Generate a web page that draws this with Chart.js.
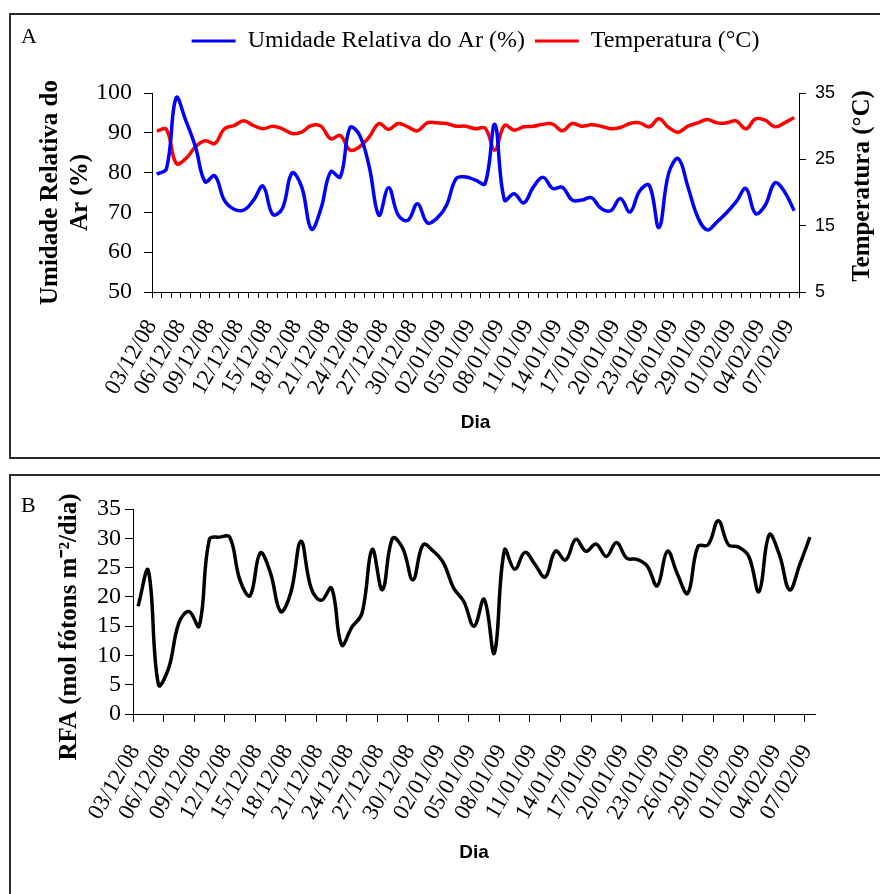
<!DOCTYPE html>
<html><head><meta charset="utf-8">
<script src="https://cdn.jsdelivr.net/npm/chart.js@4.4.0/dist/chart.umd.min.js"></script>
<style>
html,body{margin:0;padding:0;background:#fff;width:880px;height:894px;overflow:hidden;}
.box{position:absolute;border:2px solid #2a2a2a;box-sizing:border-box;}
canvas{position:absolute;left:0;}
</style></head><body>
<div class="box" style="left:9px;top:13px;width:880px;height:446px;"></div>
<div class="box" style="left:9px;top:474px;width:880px;height:440px;"></div>
<canvas id="cA" width="880" height="466" style="top:0px"></canvas>
<canvas id="cB" width="880" height="428" style="top:466px"></canvas>
<script>
const days = [
 '03/12/08','04/12/08','05/12/08','06/12/08','07/12/08','08/12/08','09/12/08','10/12/08','11/12/08','12/12/08',
 '13/12/08','14/12/08','15/12/08','16/12/08','17/12/08','18/12/08','19/12/08','20/12/08','21/12/08','22/12/08',
 '23/12/08','24/12/08','25/12/08','26/12/08','27/12/08','28/12/08','29/12/08','30/12/08','31/12/08','01/01/09',
 '02/01/09','03/01/09','04/01/09','05/01/09','06/01/09','07/01/09','08/01/09','09/01/09','10/01/09','11/01/09',
 '12/01/09','13/01/09','14/01/09','15/01/09','16/01/09','17/01/09','18/01/09','19/01/09','20/01/09','21/01/09',
 '22/01/09','23/01/09','24/01/09','25/01/09','26/01/09','27/01/09','28/01/09','29/01/09','30/01/09','31/01/09',
 '01/02/09','02/02/09','03/02/09','04/02/09','05/02/09','06/02/09','07/02/09'
];
const umidade = [
 79.6,81.0,98.8,93.1,86.5,77.7,79.2,73.0,70.8,70.6,
 73.0,76.6,69.5,71.0,79.9,76.4,65.8,71.0,80.2,78.9,
 91.3,89.4,81.4,69.3,76.2,69.3,68.0,72.2,67.4,68.5,
 71.8,78.5,78.9,78.1,77.3,92.1,73.1,74.7,72.4,76.4,
 78.8,76.0,76.3,73.1,73.1,73.7,71.0,70.4,73.5,70.1,
 75.4,76.8,66.2,79.8,83.5,76.4,68.9,65.6,67.6,69.9,
 72.7,76.0,69.7,71.8,77.4,75.2,70.4
];
const temperatura = [
 29.3,29.5,24.4,25.1,26.9,27.8,27.4,29.6,30.1,30.8,
 30.1,29.6,30.0,29.6,28.9,29.1,30.1,30.0,28.1,28.6,
 26.4,26.9,28.4,30.4,29.5,30.4,29.9,29.3,30.5,30.5,
 30.4,30.0,30.0,29.6,29.7,26.4,30.1,29.4,29.9,30.0,
 30.3,30.3,29.3,30.4,30.0,30.2,30.0,29.6,29.8,30.4,
 30.5,29.9,31.1,29.8,29.1,30.0,30.5,31.0,30.5,30.5,
 30.8,29.6,31.1,30.9,29.9,30.5,31.3
];
const rfa = [
 18.4,24.5,5.0,7.8,15.5,17.5,15.0,29.8,30.2,30.2,
 22.9,20.2,27.5,24.1,17.5,20.7,29.5,21.5,19.4,21.5,
 11.8,14.8,17.2,28.1,21.2,30.0,28.3,22.9,28.9,27.8,
 25.8,21.5,19.2,15.0,19.6,10.4,28.0,24.7,27.6,25.5,
 23.4,27.8,26.3,29.8,27.8,29.0,26.9,29.3,26.6,26.4,
 25.3,21.9,27.8,23.8,20.6,28.6,28.9,33.0,28.9,28.5,
 26.9,20.9,30.6,27.2,21.2,25.5,30.2
];
const seriesNames = ['Umidade Relativa do Ar (%)', 'Temperatura (°C)', 'RFA'];
const humidityRange = [50, 100, 10];
const tempRange = [5, 35, 10];
const rfaRange = [0, 35, 5];

const SERIF = "'Liberation Serif', 'Times New Roman', serif";
const SANS = "'Liberation Sans', Arial, sans-serif";
Chart.defaults.color = '#000';
Chart.defaults.font.family = SERIF;

const textPlugin = (items) => ({
  id: 'extraText',
  afterDraw(chart) {
    const ctx = chart.ctx;
    items.forEach(it => {
      ctx.save();
      ctx.font = it.font;
      ctx.fillStyle = '#000';
      ctx.translate(it.x, it.y);
      ctx.rotate(it.rot || 0);
      ctx.textAlign = it.align || 'left';
      ctx.textBaseline = it.baseline || 'alphabetic';
      ctx.fillText(it.text, 0, 0);
      ctx.restore();
    });
  }
});

const every3 = function(v, i) { return i % 3 === 0 ? this.getLabelForValue(v) : ''; };

new Chart(document.getElementById('cA'), {
  type: 'line',
  data: {
    labels: days,
    datasets: [
      {label: seriesNames[0], data: umidade, borderColor: '#0000ff', backgroundColor: '#0000ff',
       borderWidth: 3.5, pointRadius: 0, tension: 0.4, yAxisID: 'y', fill: false},
      {label: seriesNames[1], data: temperatura, borderColor: '#ff0000', backgroundColor: '#ff0000',
       borderWidth: 3.5, pointRadius: 0, tension: 0.4, yAxisID: 'y1', fill: false}
    ]
  },
  options: {
    responsive: false, animation: false,
    layout: {padding: {top: 19, left: 0, right: 0, bottom: 0}},
    plugins: {
      tooltip: {enabled: false},
      legend: {
        display: true, position: 'top', fullSize: false,
        labels: {
          font: {family: SERIF, size: 24}, color: '#000', boxWidth: 44, boxHeight: 3, padding: 10,
          generateLabels: (chart) => Chart.defaults.plugins.legend.labels.generateLabels(chart)
            .map(l => Object.assign(l, {fillStyle: l.strokeStyle, lineWidth: 0}))
        }
      }
    },
    scales: {
      x: {
        type: 'category', position: 'bottom', offset: true,
        grid: {offset: true, drawOnChartArea: false, drawTicks: true, tickLength: 6, color: '#000', tickColor: '#000'},
        border: {display: true, color: '#000', width: 1},
        ticks: {autoSkip: false, minRotation: 60, maxRotation: 60, padding: 17, labelOffset: -5,
                font: {family: SERIF, size: 23}, color: '#000', callback: every3},
        title: {display: true, text: 'Dia', color: '#000', font: {family: SANS, size: 19, weight: 'bold'},
                padding: {top: 0, bottom: 32}},
        afterFit: s => { s.height = 174; }
      },
      xSpacer: {
        type: 'category', position: 'top', display: true,
        grid: {display: false}, border: {display: false}, ticks: {display: false},
        afterFit: s => { s.height = 30; }
      },
      y: {
        position: 'left', min: humidityRange[0], max: humidityRange[1],
        ticks: {stepSize: humidityRange[2], autoSkip: false, padding: 12, font: {family: SERIF, size: 24}, color: '#000'},
        grid: {drawOnChartArea: false, tickLength: 8, color: '#000'},
        border: {display: true, color: '#000', width: 1},
        title: {display: true, text: ['Umidade Relativa do', 'Ar (%)'], color: '#000',
                font: {family: SERIF, size: 25, weight: 'bold', lineHeight: 1.2},
                padding: {top: 36, bottom: 0}},
        afterFit: s => { s.width = 152; }
      },
      y1: {
        position: 'right', min: tempRange[0], max: tempRange[1],
        ticks: {stepSize: tempRange[2], autoSkip: false, padding: 9, font: {family: SANS, size: 18}, color: '#000'},
        grid: {drawOnChartArea: false, tickLength: 7, color: '#000'},
        border: {display: true, color: '#000', width: 1},
        afterFit: s => { s.width = 81; }
      }
    }
  },
  plugins: [textPlugin([
    {text: 'A', x: 21, y: 43, font: '22px ' + SERIF},
    {text: 'Temperatura (°C)', x: 863, y: 186, rot: -Math.PI / 2, align: 'center', baseline: 'middle',
     font: 'bold 25px ' + SERIF}
  ])]
});

new Chart(document.getElementById('cB'), {
  type: 'line',
  data: {
    labels: days,
    datasets: [
      {label: seriesNames[2], data: rfa, borderColor: '#000', backgroundColor: '#000',
       borderWidth: 3.5, pointRadius: 0, tension: 0.4, fill: false}
    ]
  },
  options: {
    responsive: false, animation: false,
    layout: {padding: {top: 43, left: 0, right: 65, bottom: 0}},
    plugins: {tooltip: {enabled: false}, legend: {display: false}},
    scales: {
      x: {
        type: 'category', position: 'bottom', offset: true,
        grid: {offset: true, drawOnChartArea: false, drawTicks: true, tickLength: 8, color: '#000',
               tickColor: c => (c.index !== undefined && c.index % 3 === 0) ? '#000' : 'rgba(0,0,0,0)'},
        border: {display: true, color: '#000', width: 1},
        ticks: {autoSkip: false, minRotation: 60, maxRotation: 60, padding: 18, labelOffset: -3,
                font: {family: SERIF, size: 23}, color: '#000', callback: every3},
        title: {display: true, text: 'Dia', color: '#000', font: {family: SANS, size: 19, weight: 'bold'},
                padding: {top: 0, bottom: 30}},
        afterFit: s => { s.height = 180; }
      },
      y: {
        position: 'left', min: rfaRange[0], max: rfaRange[1],
        ticks: {stepSize: rfaRange[2], autoSkip: false, padding: 4, font: {family: SERIF, size: 24}, color: '#000'},
        grid: {drawOnChartArea: false, tickLength: 8, color: '#000'},
        border: {display: true, color: '#000', width: 1},
        afterFit: s => { s.width = 133; }
      }
    }
  },
  plugins: [textPlugin([
    {text: 'B', x: 21, y: 46, font: '22px ' + SERIF},
    {text: 'RFA (mol fótons m\u207B\u00B2/dia)', x: 70, y: 161, rot: -Math.PI / 2, align: 'center', baseline: 'middle',
     font: 'bold 25px ' + SERIF}
  ])]
});
</script>
</body></html>
